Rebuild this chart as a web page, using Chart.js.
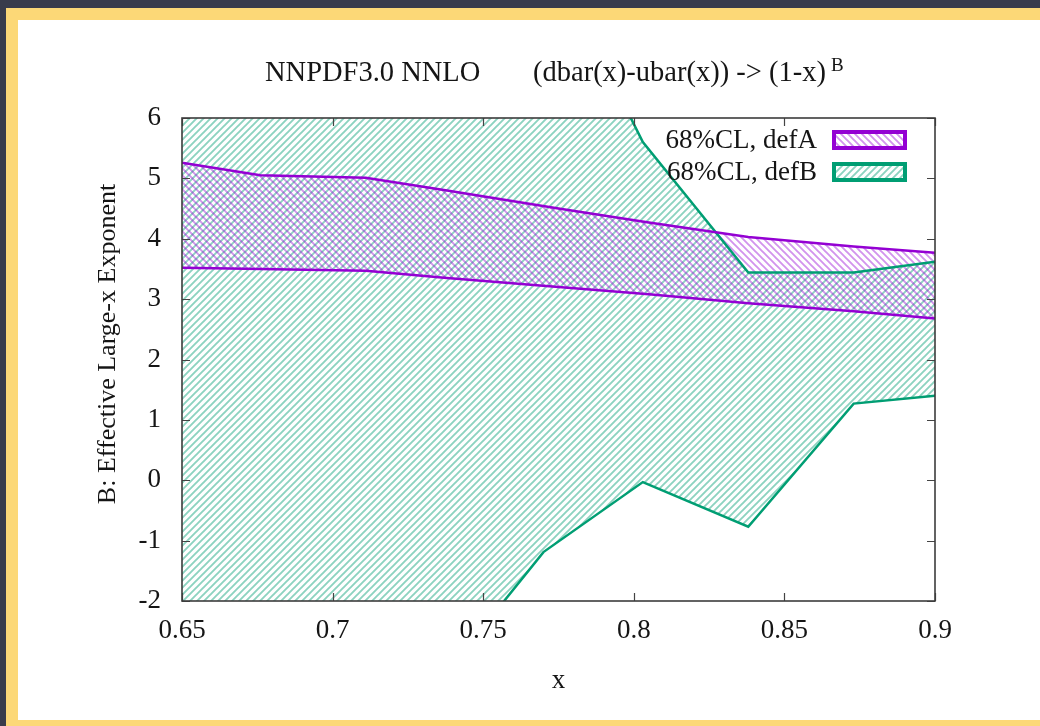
<!DOCTYPE html>
<html>
<head>
<meta charset="utf-8">
<script src="https://cdn.jsdelivr.net/npm/chart.js@4.4.1/dist/chart.umd.min.js"></script>
<style>
  html, body { margin: 0; padding: 0; }
  body { width: 1040px; height: 726px; overflow: hidden; background: #393c4b; position: relative; }
  .card { position: absolute; left: 6px; top: 8px; width: 1100px; height: 700px;
          background: #fff; border: 12px solid #fcd877; }
  #chart { position: absolute; left: 0; top: 0; }
</style>
</head>
<body>
<div class="card"></div>
<canvas id="chart" width="1040" height="726"></canvas>
<script>
// effective exponent bands, 68% CL
const xA = [0.65, 0.676, 0.711, 0.738, 0.775, 0.805, 0.838, 0.873, 0.9];
const defAUpper = [5.26, 5.05, 5.01, 4.80, 4.50, 4.27, 4.03, 3.87, 3.77];
const defALower = [3.52, 3.50, 3.47, 3.35, 3.20, 3.08, 2.93, 2.80, 2.68];

const xB = [0.65, 0.701, 0.736, 0.770, 0.803, 0.838, 0.873, 0.9];
const defBUpper = [14.0, 12.0, 10.5, 8.9, 5.6, 3.44, 3.44, 3.62];
const defBLower = [-2.1, -4.8, -3.3, -1.19, -0.03, -0.77, 1.27, 1.40];

const xTicks = [0.65, 0.7, 0.75, 0.8, 0.85, 0.9];
const yTicks = [-2, -1, 0, 1, 2, 3, 4, 5, 6];

const legendLabels = ['68%CL, defA', '68%CL, defB'];

const PURPLE = '#9400d3';
const GREEN = '#009e73';
const INK = '#151515';
const SERIF = '"Liberation Serif", "DejaVu Serif", serif';

const canvas = document.getElementById('chart');
const ctx = canvas.getContext('2d');

// diagonal hatch tiles; dir 1 = "/", dir -1 = "\"
function hatch(color, size, dir, width) {
  const t = document.createElement('canvas');
  t.width = size; t.height = size;
  const c = t.getContext('2d');
  c.strokeStyle = color;
  c.lineWidth = width;
  c.beginPath();
  if (dir > 0) {
    c.moveTo(-1, size + 1); c.lineTo(size + 1, -1);
    c.moveTo(-1, 1); c.lineTo(1, -1);
    c.moveTo(size - 1, size + 1); c.lineTo(size + 1, size - 1);
  } else {
    c.moveTo(-1, -1); c.lineTo(size + 1, size + 1);
    c.moveTo(-1, size - 1); c.lineTo(1, size + 1);
    c.moveTo(size - 1, -1); c.lineTo(size + 1, 1);
  }
  c.stroke();
  return ctx.createPattern(t, 'repeat');
}

const greenHatch = hatch('rgba(0,158,115,0.45)', 7, 1, 1.9);
const purpleHatch = hatch('rgba(148,0,211,0.42)', 7, -1, 1.9);

const pts = (xs, ys) => xs.map((x, i) => ({ x, y: ys[i] }));

function lineSet(data, color, fill, bg) {
  return {
    data, borderColor: color, borderWidth: 2.5, pointRadius: 0,
    fill, backgroundColor: bg, tension: 0
  };
}

// title, axis labels, key, tick marks and frame of the plot
const decorations = {
  id: 'decorations',
  afterDraw(chart) {
    const c = chart.ctx;
    const a = chart.chartArea;
    const sx = chart.scales.x, sy = chart.scales.y;
    c.save();

    // inward tick marks on all four sides
    c.strokeStyle = '#444';
    c.lineWidth = 1.2;
    c.beginPath();
    xTicks.forEach(v => {
      const p = Math.round(sx.getPixelForValue(v)) + 0.5;
      c.moveTo(p, a.bottom); c.lineTo(p, a.bottom - 8);
      c.moveTo(p, a.top); c.lineTo(p, a.top + 8);
    });
    yTicks.forEach(v => {
      const p = Math.round(sy.getPixelForValue(v)) + 0.5;
      c.moveTo(a.left, p); c.lineTo(a.left + 8, p);
      c.moveTo(a.right, p); c.lineTo(a.right - 8, p);
    });
    c.stroke();

    c.strokeStyle = '#3c3c3c';
    c.lineWidth = 1.6;
    c.strokeRect(a.left, a.top, a.right - a.left, a.bottom - a.top);

    // title with superscript exponent
    c.fillStyle = INK;
    c.textBaseline = 'alphabetic';
    c.textAlign = 'left';
    c.font = '28.5px ' + SERIF;
    c.fillText('NNPDF3.0 NNLO', 265, 81);
    const tail = '(dbar(x)-ubar(x)) -> (1-x)';
    c.fillText(tail, 533, 81);
    const bx = 533 + c.measureText(tail).width + 5;
    c.font = '19px ' + SERIF;
    c.fillText('B', bx, 71);

    // x axis label
    c.font = '27px ' + SERIF;
    c.textAlign = 'center';
    c.textBaseline = 'middle';
    c.fillText('x', (a.left + a.right) / 2, 681);

    // y axis label
    c.font = '26px ' + SERIF;
    c.translate(108, 344);
    c.rotate(-Math.PI / 2);
    c.fillText('B: Effective Large-x Exponent', 0, 0);
    c.setTransform(1, 0, 0, 1, 0, 0);

    // key
    const rows = [
      { label: legendLabels[0], color: PURPLE, pattern: purpleHatch, y: 140 },
      { label: legendLabels[1], color: GREEN, pattern: greenHatch, y: 172 }
    ];
    c.font = '27px ' + SERIF;
    c.textAlign = 'right';
    c.textBaseline = 'middle';
    rows.forEach(r => {
      c.fillStyle = '#fff';
      c.fillRect(833, r.y - 9, 73, 18);
      c.fillStyle = r.pattern;
      c.fillRect(833, r.y - 9, 73, 18);
      c.strokeStyle = r.color;
      c.lineWidth = 4;
      c.strokeRect(834, r.y - 8, 71, 16);
      c.fillStyle = INK;
      c.fillText(r.label, 817, r.y + 1);
    });
    c.restore();
  }
};

new Chart(ctx, {
  type: 'line',
  data: {
    datasets: [
      lineSet(pts(xA, defAUpper), PURPLE, '+1', purpleHatch),
      lineSet(pts(xA, defALower), PURPLE, false, 'transparent'),
      lineSet(pts(xB, defBUpper), GREEN, '+1', greenHatch),
      lineSet(pts(xB, defBLower), GREEN, false, 'transparent')
    ]
  },
  options: {
    responsive: false,
    animation: false,
    layout: { padding: { left: 60, top: 118, right: 105, bottom: 0 } },
    plugins: {
      legend: { display: false },
      tooltip: { enabled: false },
      filler: { drawTime: 'beforeDatasetsDraw' }
    },
    scales: {
      x: {
        type: 'linear', min: 0.65, max: 0.9,
        afterBuildTicks: s => { s.ticks = xTicks.map(v => ({ value: v })); },
        ticks: {
          font: { family: SERIF, size: 27 }, color: INK, padding: 14,
          maxRotation: 0, autoSkip: false,
          callback: v => String(+v.toFixed(2))
        },
        grid: { display: false, drawTicks: false },
        border: { display: false },
        afterFit: s => { s.height = 125; }
      },
      y: {
        min: -2, max: 6,
        afterBuildTicks: s => { s.ticks = yTicks.map(v => ({ value: v })); },
        ticks: {
          font: { family: SERIF, size: 27 }, color: INK, padding: 21,
          callback: v => String(v)
        },
        grid: { display: false, drawTicks: false },
        border: { display: false },
        afterFit: s => { s.width = 122; }
      }
    }
  },
  plugins: [decorations]
});
</script>
</body>
</html>
